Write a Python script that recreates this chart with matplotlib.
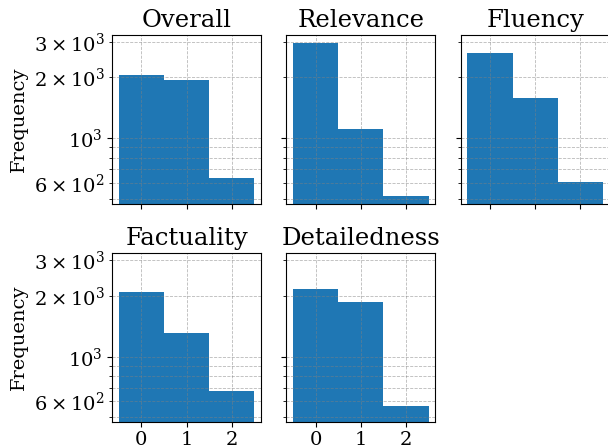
import numpy as np
import matplotlib
matplotlib.use("Agg")
import matplotlib.pyplot as plt

plt.rcParams['font.family'] = 'DejaVu Serif'
plt.rcParams['font.size'] = 14

# score values (0, 1, 2) and how many times each was given
scores = [0, 1, 2]
overall = [2046, 1941, 635]
relevance = [2978, 1108, 518]
fluency = [2655, 1575, 607]
factuality = [2094, 1316, 676]
detailedness = [2163, 1870, 570]

names = ["Overall", "Relevance", "Fluency", "Factuality", "Detailedness"]
counts = [overall, relevance, fluency, factuality, detailedness]

fig, axes = plt.subplots(2, 3, sharex=True, sharey=True, figsize=(6.08, 4.48), dpi=100)
axes = axes.flatten()

for i in range(len(names)):
    ax = axes[i]
    ax.bar(scores, counts[i], width=1.0, color='#1f77b4', log=True)
    ax.set_title(names[i], fontsize=17.5)
    ax.grid(True, which='both', linestyle='--', color='gray', alpha=0.55, linewidth=0.6)
    ax.tick_params(axis='x', pad=3)
    if i % 3 == 0:
        ax.set_ylabel("Frequency")

fig.delaxes(axes[5])
axes[0].set_xticks(scores)

plt.subplots_adjust(left=0.1842, right=1.0028, top=0.922, bottom=0.058, wspace=0.17, hspace=0.296)
plt.savefig("out.png")
